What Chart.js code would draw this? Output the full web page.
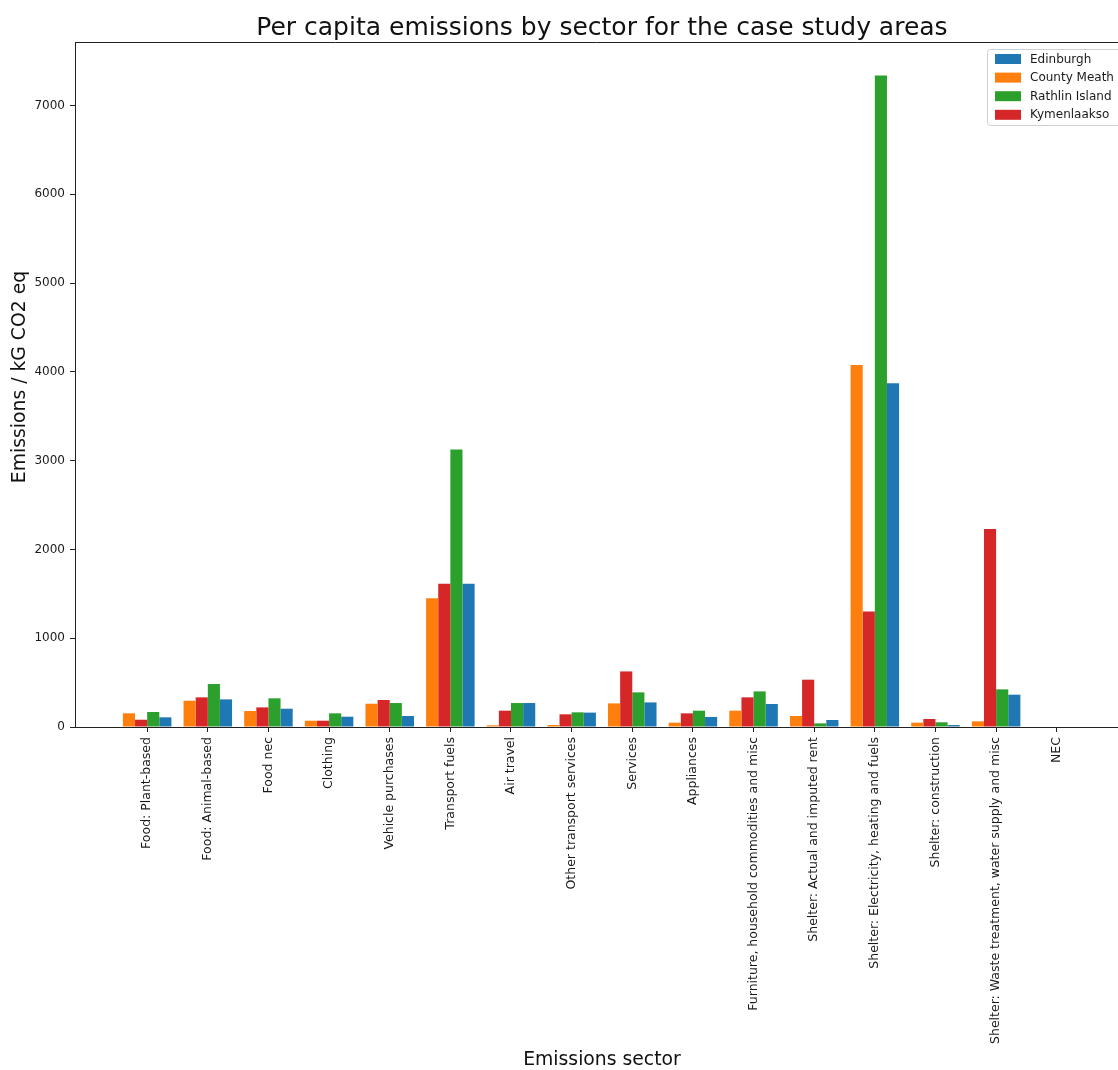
<!DOCTYPE html>
<html><head><meta charset="utf-8">
<script src="https://cdn.jsdelivr.net/npm/chart.js@4"></script>
<style>html,body{margin:0;padding:0;background:#fff;overflow:hidden}</style>
</head><body>
<canvas id="c" width="1118" height="1070"></canvas>
<script>
const categories = [
  'Food: Plant-based', 'Food: Animal-based', 'Food nec', 'Clothing', 'Vehicle purchases',
  'Transport fuels', 'Air travel', 'Other transport services', 'Services', 'Appliances',
  'Furniture, household commodities and misc', 'Shelter: Actual and imputed rent',
  'Shelter: Electricity, heating and fuels', 'Shelter: construction',
  'Shelter: Waste treatment, water supply and misc', 'NEC'
];
const countyMeath   = [154, 296, 180,  71, 262, 1450,  19,  22, 266,  49, 184, 124, 4077,  49,   64, 0];
const kymenlaakso   = [ 82, 334, 221,  71, 304, 1615, 184, 143, 626, 154, 334, 533, 1300,  90, 2230, 0];
const rathlinIsland = [169, 484, 323, 154, 270, 3127, 270, 165, 390, 184, 401,  41, 7340,  53,  424, 0];
const edinburgh     = [109, 311, 206, 116, 124, 1615, 270, 162, 277, 113, 259,  79, 3871,  22,  364, 0];
const yTicks = [0, 1000, 2000, 3000, 4000, 5000, 6000, 7000];
const legendOrder = ['Edinburgh', 'County Meath', 'Rathlin Island', 'Kymenlaakso'];

const F = 'DejaVu Sans';
const C = {blue:'#1f77b4', orange:'#ff7f0e', green:'#2ca02c', red:'#d62728'};
const toPts = arr => arr.map((v, i) => ({x: i, y: v}));

const datasets = [
  {label:'County Meath', data: toPts(countyMeath), backgroundColor: C.orange},
  {label:'Kymenlaakso', data: toPts(kymenlaakso), backgroundColor: C.red},
  {label:'Rathlin Island', data: toPts(rathlinIsland), backgroundColor: C.green},
  {label:'Edinburgh', data: toPts(edinburgh), backgroundColor: C.blue}
].map(d => Object.assign(d, {borderWidth: 0, categoryPercentage: 0.8, barPercentage: 1.0}));

const extras = {
  id: 'extras',
  afterDraw(chart) {
    const ctx = chart.ctx, a = chart.chartArea, xs = chart.scales.x;
    const cx = xs.getPixelForValue(7.5);
    ctx.save();
    // top spine
    ctx.strokeStyle = '#222'; ctx.lineWidth = 1;
    ctx.beginPath(); ctx.moveTo(a.left, a.top + 0.5); ctx.lineTo(a.right, a.top + 0.5); ctx.stroke();
    // title
    ctx.fillStyle = '#111';
    ctx.font = '25px "' + F + '"';
    ctx.textAlign = 'center'; ctx.textBaseline = 'alphabetic';
    ctx.fillText('Per capita emissions by sector for the case study areas', cx, 35);
    // axis titles
    ctx.font = '18.8px "' + F + '"';
    ctx.fillText('Emissions sector', cx, 1065);
    ctx.save();
    ctx.translate(25, 377);
    ctx.rotate(-Math.PI / 2);
    ctx.fillText('Emissions / kG CO2 eq', 0, 0);
    ctx.restore();
    // legend
    const bx = 987.5, by = 49.5, bw = 160, bh = 76;
    ctx.fillStyle = 'rgba(255,255,255,0.85)';
    ctx.strokeStyle = '#d0d0d0';
    ctx.beginPath();
    ctx.roundRect(bx, by, bw, bh, 3);
    ctx.fill(); ctx.stroke();
    ctx.font = '12px "' + F + '"';
    ctx.textAlign = 'left'; ctx.textBaseline = 'middle';
    legendOrder.forEach((name, i) => {
      const ds = chart.data.datasets.find(d => d.label === name);
      const cy = 59 + i * 18.6;
      ctx.fillStyle = ds.backgroundColor;
      ctx.fillRect(995, cy - 5, 26, 10);
      ctx.fillStyle = '#1a1a1a';
      ctx.fillText(name, 1030, cy + 0.5);
    });
    ctx.restore();
  }
};

new Chart(document.getElementById('c'), {
  type: 'bar',
  data: {datasets},
  options: {
    responsive: false,
    animation: false,
    devicePixelRatio: 1,
    layout: {padding: {top: 42, left: 0, right: 0, bottom: 0}},
    plugins: {legend: {display: false}, title: {display: false}, tooltip: {enabled: false}},
    scales: {
      x: {
        type: 'linear', min: -1.19, max: 16.01, offset: false,
        afterBuildTicks: s => { s.ticks = categories.map((c, i) => ({value: i})); },
        afterFit: s => { s.height = 343; },
        grid: {display: true, offset: false, drawOnChartArea: false, drawTicks: true, tickLength: 5, color: '#222', tickWidth: 1},
        border: {display: true, color: '#222', width: 1},
        ticks: {autoSkip: false, minRotation: 90, maxRotation: 90, padding: 5, color: '#1a1a1a',
                font: {family: F, size: 12.5}, callback: v => categories[v] ?? ''},
        title: {display: false}
      },
      y: {
        min: 0, max: 7716,
        afterBuildTicks: s => { s.ticks = yTicks.map(v => ({value: v})); },
        afterFit: s => { s.width = 75; },
        grid: {display: true, drawOnChartArea: false, drawTicks: true, tickLength: 5, color: '#222', tickWidth: 1},
        border: {display: true, color: '#222', width: 1},
        ticks: {padding: 5, color: '#1a1a1a', font: {family: F, size: 12}, callback: v => String(v)},
        title: {display: false}
      }
    }
  },
  plugins: [extras]
});
</script>
</body></html>
